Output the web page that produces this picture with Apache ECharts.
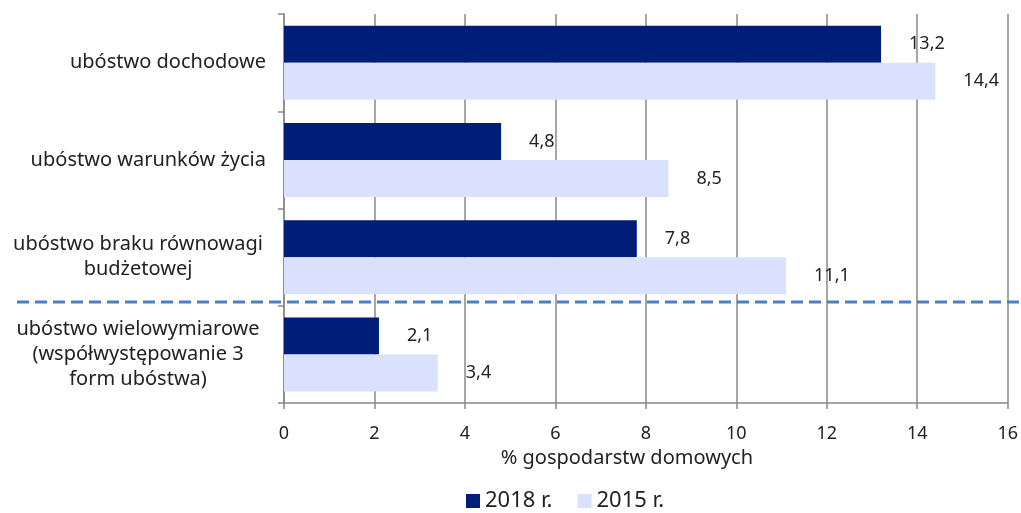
<!DOCTYPE html>
<html>
<head>
<meta charset="utf-8">
<script src="https://cdn.jsdelivr.net/npm/echarts@6/dist/echarts.min.js"></script>
<style>
  html, body { margin: 0; padding: 0; background: #fff; }
  #chart { width: 1021px; height: 513px; }
</style>
</head>
<body>
<div id="chart"></div>
<script>
// dane do wykresu
var categories = [
  'ubóstwo dochodowe',
  'ubóstwo warunków życia',
  'ubóstwo braku równowagi\nbudżetowej',
  'ubóstwo wielowymiarowe\n(współwystępowanie 3\nform ubóstwa)'
];
var values2018 = [13.2, 4.8, 7.8, 2.1];
var values2015 = [14.4, 8.5, 11.1, 3.4];
var seriesNames = ['2018 r.', '2015 r.'];

var FONT = '"Noto Sans", "Open Sans", sans-serif';
var chart = echarts.init(document.getElementById('chart'));

function labelFmt(p) {
  return p.value.toFixed(1).replace('.', ',');
}

var option = {
  animation: false,
  textStyle: { fontFamily: FONT },
  grid: { left: 284, right: 11, top: 14, bottom: 110 },
  legend: {
    top: 490,
    left: 466,
    padding: 0,
    icon: 'rect',
    itemWidth: 14,
    itemHeight: 14,
    itemGap: 25,
    textStyle: { fontSize: 22, color: '#222', fontFamily: FONT },
    data: seriesNames
  },
  xAxis: {
    type: 'value',
    min: 0,
    max: 16,
    interval: 2,
    name: '% gospodarstw domowych',
    nameLocation: 'middle',
    nameGap: 45,
    nameTextStyle: { fontSize: 20, color: '#222', fontFamily: FONT, padding: [0, 38, 0, 0] },
    axisLine: { show: true, lineStyle: { color: '#888', width: 1.5 } },
    axisTick: { show: true, length: 6, lineStyle: { color: '#888', width: 1.5 } },
    axisLabel: { fontSize: 18, color: '#222', margin: 22, fontFamily: FONT },
    splitLine: { lineStyle: { color: '#888', width: 1.5 } }
  },
  yAxis: {
    type: 'category',
    inverse: true,
    data: categories,
    axisLine: { show: true, lineStyle: { color: '#888', width: 1.5 } },
    axisTick: { show: true, length: 6, lineStyle: { color: '#888', width: 1.5 } },
    axisLabel: {
      margin: 18,
      fontSize: 20,
      color: '#222',
      fontFamily: FONT,
      lineHeight: 25,
      formatter: function (v) {
        if (v.indexOf('\n') < 0) return v;
        return v.split('\n').map(function (l) { return '{c|' + l + '}'; }).join('\n');
      },
      rich: {
        c: { width: 256, align: 'center', fontSize: 20, color: '#222', fontFamily: FONT, lineHeight: 25 }
      }
    }
  },
  series: [
    {
      name: seriesNames[0],
      type: 'bar',
      data: values2018,
      barWidth: 37,
      barGap: '0%',
      itemStyle: { color: '#001d77' },
      label: { show: true, position: 'right', distance: 28, fontSize: 18, color: '#222', fontFamily: FONT, formatter: labelFmt }
    },
    {
      name: seriesNames[1],
      type: 'bar',
      data: values2015,
      barWidth: 37,
      barGap: '0%',
      itemStyle: { color: '#d9e1fc' },
      label: { show: true, position: 'right', distance: 28, fontSize: 18, color: '#222', fontFamily: FONT, formatter: labelFmt }
    }
  ],
  graphic: [
    {
      type: 'line',
      shape: { x1: 17, y1: 302, x2: 1021, y2: 302 },
      style: { stroke: '#4a7fc1', lineWidth: 3, lineDash: [12, 6] },
      z: 100
    }
  ]
};

chart.setOption(option);
</script>
</body>
</html>
